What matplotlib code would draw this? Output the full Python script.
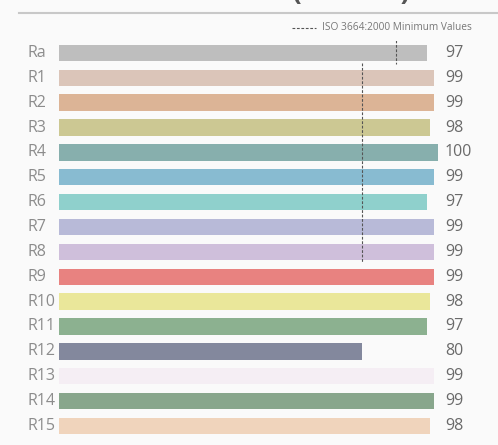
import matplotlib.pyplot as plt

# datos
etiquetas = ['Ra', 'R1', 'R2', 'R3', 'R4', 'R5', 'R6', 'R7',
             'R8', 'R9', 'R10', 'R11', 'R12', 'R13', 'R14', 'R15']
valores = [97, 99, 99, 98, 100, 99, 97, 99, 99, 99, 98, 97, 80, 99, 99, 98]
colores = ['#bebebe', '#dbc5b9', '#dcb496', '#ccc893', '#87afad', '#88bbd1',
           '#8fd0cc', '#b8bad8', '#cfbfdb', '#e88280', '#eae79a', '#8cb190',
           '#83889d', '#f5eef4', '#88a68c', '#f0d4bc']
# minimos ISO 3664:2000
min_ra = 89
min_r1_r8 = 80

fondo = '#fafafa'
W, H = 498, 445

fig = plt.figure(figsize=(W / 100, H / 100), dpi=100, facecolor=fondo)
plt.rcParams['font.family'] = ['Open Sans', 'DejaVu Sans']

# ejes: barras desde x=59px, 3.79 px por unidad
ax = fig.add_axes([59 / W, (H - 438.4) / H, 379 / W, 397.9 / H])
ax.set_facecolor(fondo)
pos = list(range(len(etiquetas)))
ax.barh(pos, valores, height=0.66, color=colores)
ax.set_xlim(0, 100)
ax.set_ylim(len(etiquetas) - 0.5, -0.5)
ax.axis('off')

for i, (e, v) in enumerate(zip(etiquetas, valores)):
    ax.text(-8.4, i, e, ha='left', va='center', fontsize=11.5,
            color='#8c8c8c', clip_on=False)
    ax.text(101.8, i, str(v), ha='left', va='center', fontsize=11.5,
            color='#6a6a6a', clip_on=False)

# lineas de minimos
ax.vlines(min_ra, -0.5, 0.45, colors='#555555', linestyles=(0, (2.5, 1.5)),
          linewidth=0.8)
ax.vlines(min_r1_r8, 0.4, 8.4, colors='#555555', linestyles=(0, (2.5, 1.5)),
          linewidth=0.8)

# leyenda
fig.lines.append(plt.Line2D([292 / W, 316 / W], [1 - 28 / H, 1 - 28 / H],
                            transform=fig.transFigure, color='#555555',
                            linestyle=(0, (2.5, 1.5)), linewidth=0.8))
fig.text(322 / W, 1 - 28 / H, 'ISO 3664:2000 Minimum Values', fontsize=7.3,
         color='#777777', va='center', ha='left')

# linea superior y titulo (recortado arriba como en el original)
fig.lines.append(plt.Line2D([19 / W, 1], [1 - 13 / H, 1 - 13 / H],
                            transform=fig.transFigure, color='#c8c8c8',
                            linewidth=1.5))
fig.text(410 / W, 1.0, 'CRI Test Results (Ra–R15)', fontsize=20,
         fontweight='bold', color='#555555', ha='right', va='baseline')

fig.savefig('out.png', dpi=100, facecolor=fondo)
